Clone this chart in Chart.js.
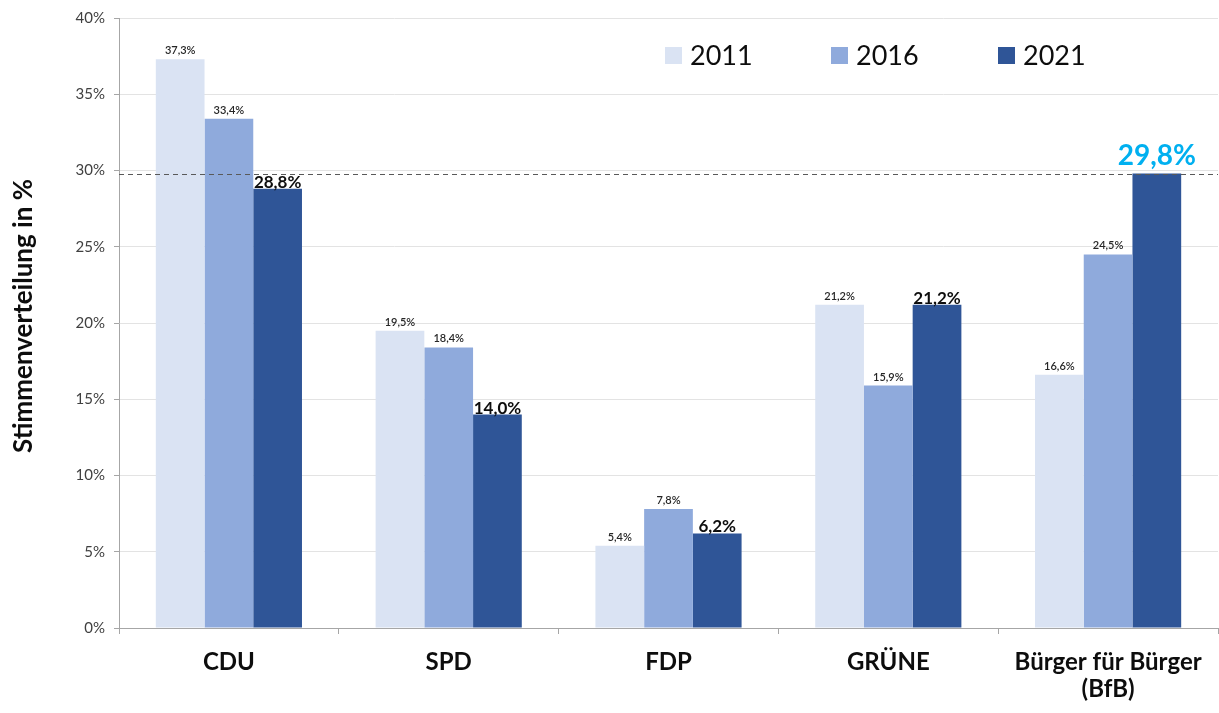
<!DOCTYPE html>
<html><head><meta charset="utf-8">
<script src="https://cdn.jsdelivr.net/npm/chart.js@4.4.1/dist/chart.umd.min.js"></script>
<style>html,body{margin:0;padding:0;background:#fff}#wrap{width:1219px;height:713px;position:relative}</style>
</head><body><div id="wrap"><canvas id="c"></canvas></div>
<script>
const categories = ['CDU', 'SPD', 'FDP', 'GRÜNE', ['Bürger für Bürger', '(BfB)']];
const seriesNames = ['2011', '2016', '2021'];
const values2011 = [37.3, 19.5, 5.4, 21.2, 16.6];
const values2016 = [33.4, 18.4, 7.8, 15.9, 24.5];
const values2021 = [28.8, 14.0, 6.2, 21.2, 29.8];
const referenceLine = 29.8;
const yTicks = [0, 5, 10, 15, 20, 25, 30, 35, 40];
const colors = ['#DAE3F3', '#8FAADC', '#2F5597'];
const FONT = 'Lato, "Open Sans", sans-serif';

const fmt = v => v.toFixed(1).replace('.', ',') + '%';

const overlay = {
  id: 'overlay',
  afterDatasetsDraw(chart) {
    const ctx = chart.ctx, ca = chart.chartArea;
    const y = chart.scales.y;
    // dashed reference line
    ctx.save();
    ctx.strokeStyle = '#595959'; ctx.lineWidth = 1; ctx.setLineDash([5, 4]);
    const ry = Math.round(y.getPixelForValue(referenceLine)) + 0.5;
    ctx.beginPath(); ctx.moveTo(ca.left, ry); ctx.lineTo(ca.right, ry); ctx.stroke();
    ctx.restore();
    // data labels
    chart.data.datasets.forEach((ds, di) => {
      const meta = chart.getDatasetMeta(di);
      meta.data.forEach((bar, i) => {
        const v = ds.data[i];
        ctx.save();
        ctx.textAlign = 'center'; ctx.textBaseline = 'alphabetic';
        if (di < 2) {
          ctx.font = '600 11px ' + FONT; ctx.fillStyle = '#262626';
          ctx.fillText(fmt(v), bar.x, bar.y - 5);
        } else if (i === 4) {
          ctx.font = 'bold 28px ' + FONT; ctx.fillStyle = '#00B0F0';
          ctx.fillText(fmt(v), bar.x, bar.y - 9);
        } else {
          ctx.font = 'bold 17px ' + FONT; ctx.fillStyle = '#0D0D0D';
          ctx.fillText(fmt(v), bar.x, bar.y - 1);
        }
        ctx.restore();
      });
    });
    // legend
    chart.data.datasets.forEach((ds, di) => {
      const lx = [665, 831, 998][di];
      ctx.save();
      ctx.fillStyle = ds.backgroundColor;
      ctx.fillRect(lx, 47, 17, 17);
      ctx.font = '27px ' + FONT; ctx.fillStyle = '#0D0D0D';
      ctx.textAlign = 'left'; ctx.textBaseline = 'middle';
      ctx.fillText(ds.label, lx + 25, 56);
      ctx.restore();
    });
    // y title
    ctx.save();
    ctx.translate(32, 316); ctx.rotate(-Math.PI / 2);
    ctx.font = 'bold 26px ' + FONT; ctx.fillStyle = '#0D0D0D';
    ctx.textAlign = 'center'; ctx.textBaseline = 'alphabetic';
    ctx.fillText('Stimmenverteilung in %', 0, 0);
    ctx.restore();
  }
};

new Chart(document.getElementById('c'), {
  type: 'bar',
  data: {
    labels: categories,
    datasets: [
      { label: seriesNames[0], data: values2011, backgroundColor: colors[0] },
      { label: seriesNames[1], data: values2016, backgroundColor: colors[1] },
      { label: seriesNames[2], data: values2021, backgroundColor: colors[2] }
    ]
  },
  options: {
    responsive: true, maintainAspectRatio: false, animation: false,
    layout: { padding: { top: 16, right: 1, left: 0, bottom: 0 } },
    plugins: { legend: { display: false }, tooltip: { enabled: false } },
    datasets: { bar: { barPercentage: 1, categoryPercentage: 0.665 } },
    scales: {
      x: {
        grid: { offset: true, drawOnChartArea: false, color: '#A6A6A6', tickLength: 6, tickColor: '#A6A6A6' },
        border: { color: '#A6A6A6', width: 1 },
        ticks: { font: { family: FONT, size: 24, weight: 'bold', lineHeight: 1.15 }, color: '#0D0D0D', padding: 14, maxRotation: 0, autoSkip: false },
        afterFit(s) { s.height = 85; }
      },
      y: {
        min: 0, max: 40,
        afterBuildTicks(s) { s.ticks = yTicks.map(v => ({ value: v })); },
        grid: { color: '#E3E3E3', tickLength: 5, tickColor: '#A6A6A6' },
        border: { color: '#A6A6A6', width: 1 },
        ticks: { font: { family: FONT, size: 15 }, color: '#404040', padding: 9, callback: v => v + '%' },
        afterFit(s) { s.width = 119; }
      }
    }
  },
  plugins: [overlay]
});
</script></body></html>
